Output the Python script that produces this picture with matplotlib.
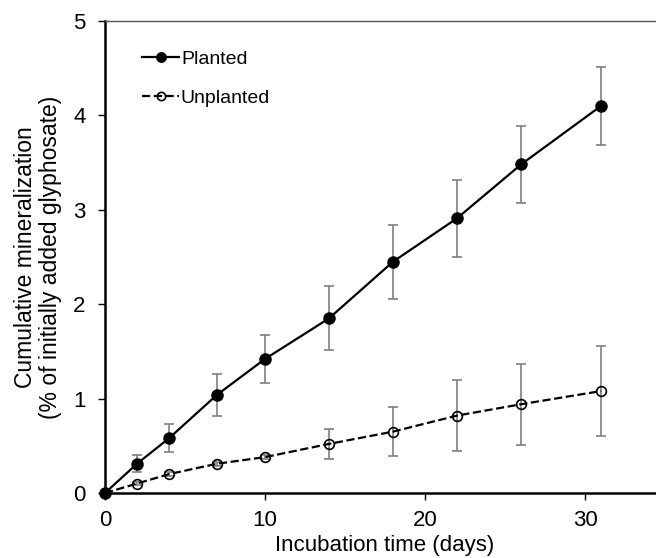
import numpy as np
import matplotlib.pyplot as plt

plt.rcParams['font.family'] = ['Liberation Sans', 'DejaVu Sans']

# Incubation days
days = [0, 2, 4, 7, 10, 14, 18, 22, 26, 31]

# Cumulative mineralization (% of initially added glyphosate)
planted = [0, 0.31, 0.58, 1.04, 1.42, 1.85, 2.45, 2.91, 3.48, 4.10]
planted_err = [0, 0.09, 0.15, 0.22, 0.25, 0.34, 0.39, 0.41, 0.41, 0.41]
unplanted = [0, 0.10, 0.20, 0.31, 0.38, 0.52, 0.65, 0.82, 0.94, 1.08]
unplanted_err = [0, 0.02, 0.02, 0.02, 0.02, 0.16, 0.26, 0.38, 0.43, 0.48]

fig = plt.figure(figsize=(6.56, 5.58), dpi=100)
ax = fig.add_axes([105 / 656, 65 / 558, 560 / 656, 472 / 558])

# error bars first (gray), then the lines
ax.errorbar(days, planted, yerr=planted_err, fmt='none', ecolor='#808080',
            elinewidth=1.2, capsize=3.5, capthick=1.2, zorder=2)
ax.errorbar(days, unplanted, yerr=unplanted_err, fmt='none', ecolor='#808080',
            elinewidth=1.2, capsize=3.5, capthick=1.2, zorder=2)

ax.plot(days, planted, '-o', color='black', linewidth=1.6, markersize=8,
        label='Planted', zorder=3, clip_on=False)
ax.plot(days, unplanted, '--o', color='black', linewidth=1.6, markersize=7,
        markerfacecolor='none', markeredgewidth=1.2, label='Unplanted',
        zorder=3, clip_on=False)

ax.set_xlim(0, 35)
ax.set_ylim(0, 5)
ax.set_xticks([0, 10, 20, 30])
ax.set_yticks([0, 1, 2, 3, 4, 5])

ax.spines['right'].set_visible(False)
ax.spines['top'].set_color('#555555')
ax.spines['top'].set_linewidth(1.0)
ax.spines['left'].set_linewidth(1.8)
ax.spines['bottom'].set_linewidth(1.8)
ax.tick_params(direction='out', length=5, width=1, labelsize=16)
ax.tick_params(axis='x', pad=7)
ax.tick_params(axis='y', pad=9)

ax.set_xlabel('Incubation time (days)', fontsize=16, labelpad=3)
ax.set_ylabel('Cumulative mineralization\n(% of initially added glyphosate)',
              fontsize=16.5, labelpad=8, linespacing=1.1)

ax.legend(loc='upper left', bbox_to_anchor=(0.035, 0.975), frameon=False,
          fontsize=14, handlelength=1.9, handletextpad=0.1, labelspacing=1.1,
          markerscale=0.85)

fig.savefig('out.png', dpi=100)
